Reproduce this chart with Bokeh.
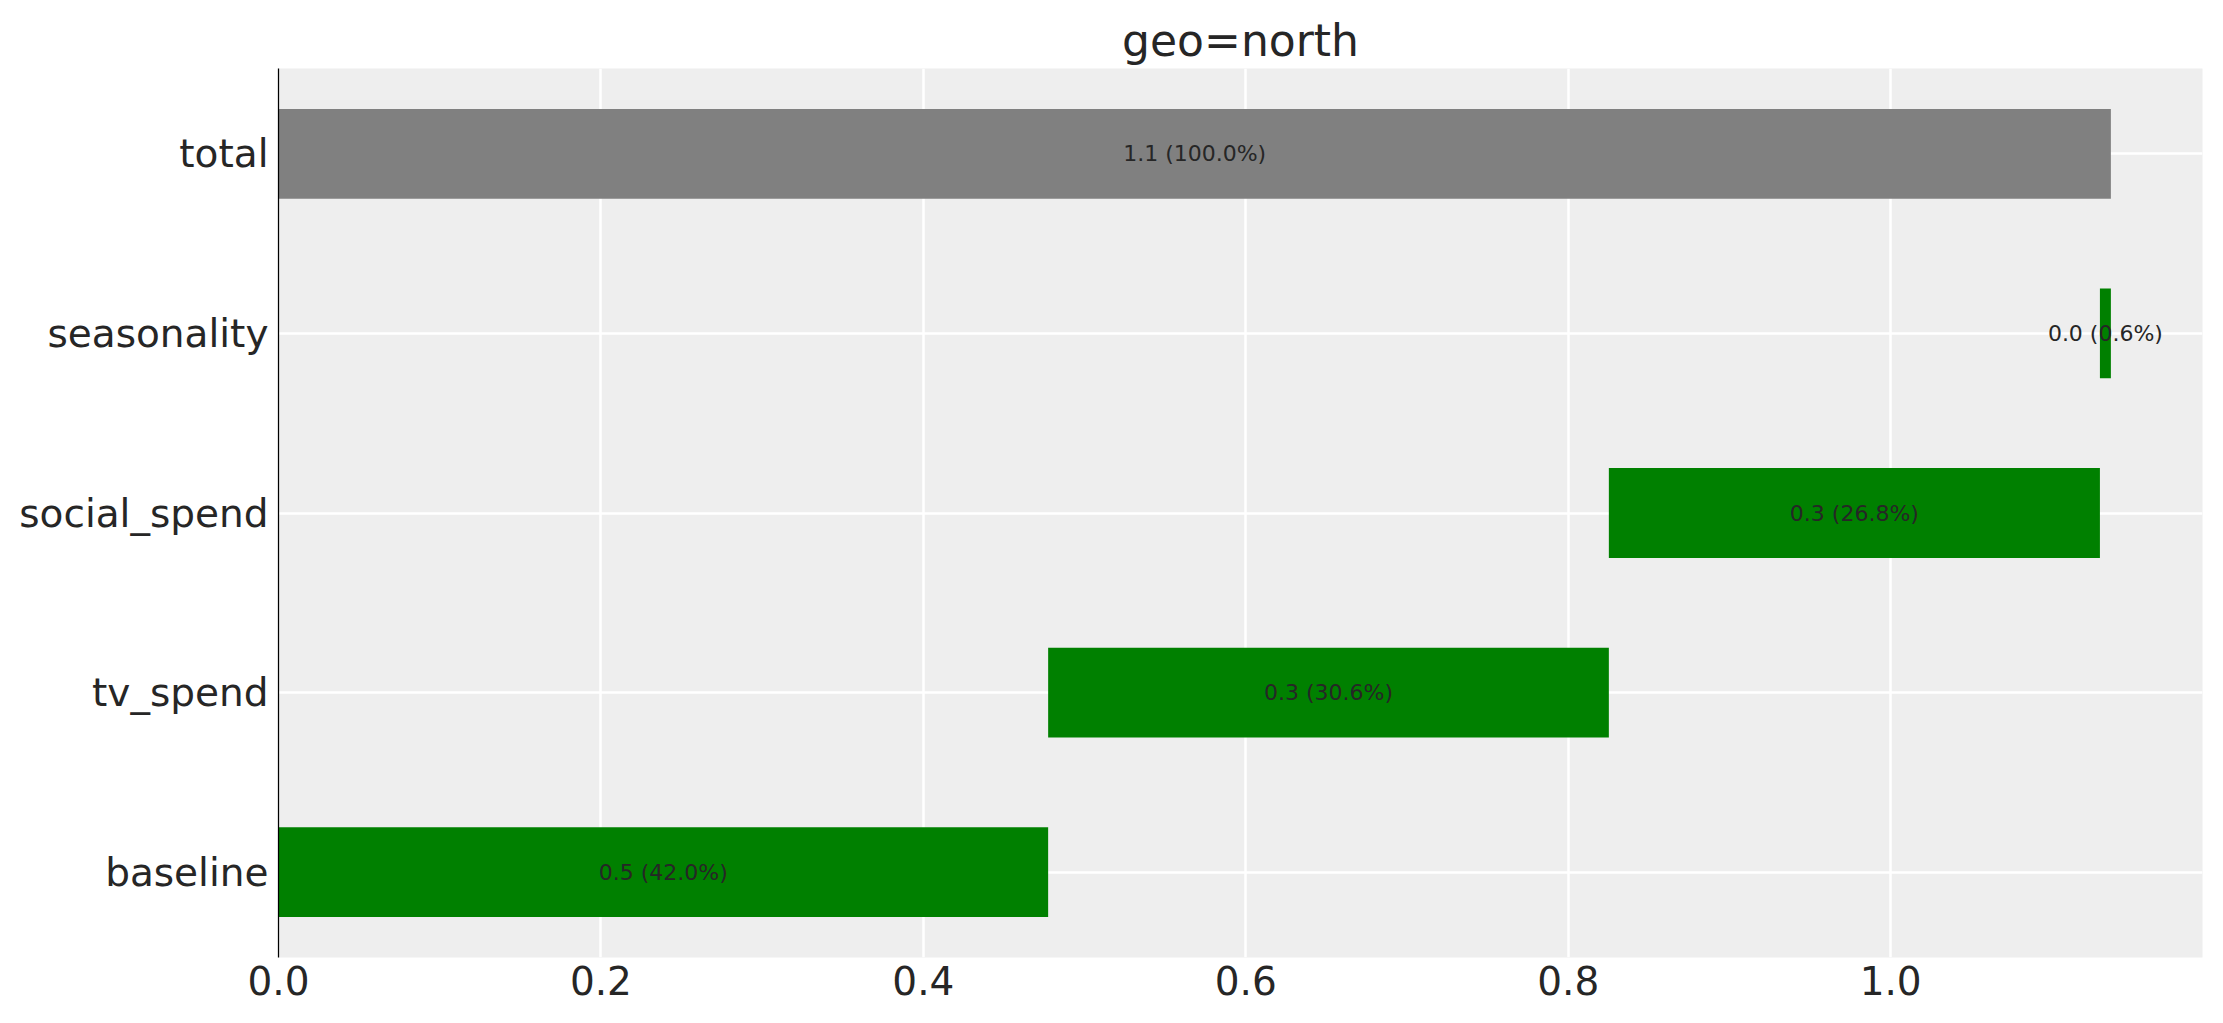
from bokeh.plotting import figure
from bokeh.models import Range1d, FixedTicker, NumeralTickFormatter, ColumnDataSource
from bokeh.embed import file_html
from bokeh.resources import INLINE
from bokeh.core.properties import value

# ---- data ----
categories = ["baseline", "tv_spend", "social_spend", "seasonality", "total"]
contributions = [0.4774, 0.3478, 0.3046, 0.0068]
total_value = 1.1366
x_ticks = [0.0, 0.2, 0.4, 0.6, 0.8, 1.0]
title_text = "geo=north"

# ---- derived waterfall layout ----
lefts, rights, vals = [], [], []
acc = 0.0
for v in contributions:
    lefts.append(acc)
    acc += v
    rights.append(acc)
    vals.append(v)
lefts.append(0.0)
rights.append(total_value)
vals.append(total_value)
colors = ["#008000"] * len(contributions) + ["#808080"]
ys = list(range(len(categories)))
labels = [f"{v:.1f} ({v / total_value * 100:.1f}%)" for v in vals]
mids = [(l + r) / 2 for l, r in zip(lefts, rights)]

src = ColumnDataSource(dict(y=ys, left=lefts, right=rights, color=colors,
                            label=labels, mid=mids))

FONT = "DejaVu Sans"
TXT = "#262626"

p = figure(frame_width=1924, frame_height=889,
           min_border_left=278, min_border_right=8,
           min_border_top=68, min_border_bottom=52,
           x_range=Range1d(0, total_value * 1.05),
           y_range=Range1d(-0.475, len(categories) - 1 + 0.475),
           output_backend="svg", toolbar_location=None,
           title=title_text)

p.background_fill_color = "#EEEEEE"
p.border_fill_color = "white"
p.outline_line_color = None

p.title.align = "center"
p.title.text_font = FONT
p.title.text_font_size = "44px"
p.title.text_font_style = "normal"
p.title.text_color = TXT
p.title.standoff = 6

p.hbar(y="y", left="left", right="right", height=0.5, color="color",
       line_color=None, source=src)
p.text(x="mid", y="y", text="label", source=src, text_align="center",
       text_baseline="middle", text_font=value(FONT), text_font_size="22px",
       text_color=TXT)

# grid
p.xgrid.ticker = FixedTicker(ticks=x_ticks)
p.ygrid.ticker = FixedTicker(ticks=ys)
p.grid.grid_line_color = "white"
p.grid.grid_line_width = 2.5

# axes
p.xaxis.ticker = FixedTicker(ticks=x_ticks)
p.xaxis.formatter = NumeralTickFormatter(format="0.0")
p.yaxis.ticker = FixedTicker(ticks=ys)
p.yaxis.major_label_overrides = {i: c for i, c in zip(ys, categories)}

for ax in (p.xaxis[0], p.yaxis[0]):
    ax.major_tick_line_color = None
    ax.minor_tick_line_color = None
    ax.major_tick_out = 0
    ax.major_tick_in = 0
    ax.minor_tick_out = 0
    ax.minor_tick_in = 0
    ax.major_label_text_font = FONT
    ax.major_label_text_font_size = "39px"
    ax.major_label_text_color = TXT

p.xaxis.axis_line_color = None
p.xaxis.major_label_standoff = 8
p.yaxis.axis_line_color = "black"
p.yaxis.axis_line_width = 1.25
p.yaxis.major_label_standoff = 10

open("out.html", "w").write(file_html(p, INLINE))
